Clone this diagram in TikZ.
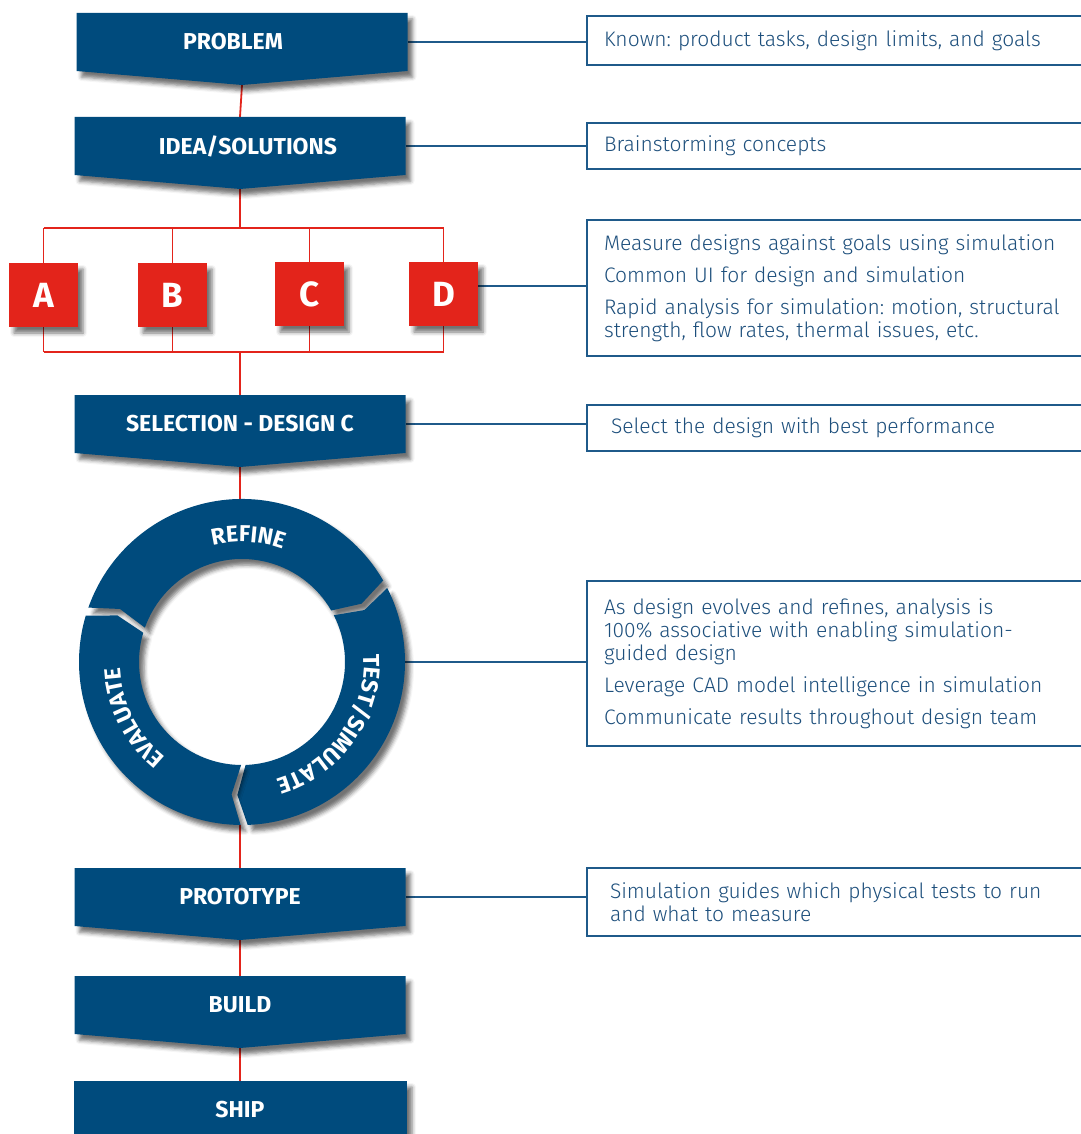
\documentclass[tikz,border=0pt]{standalone}
\usepackage{fontspec}
\setmainfont{Fira Sans}
\newfontfamily\notefont{Fira Sans Light}
\usetikzlibrary{shadows.blur,decorations.text}
\frenchspacing

\definecolor{stageblue}{HTML}{004B7D}
\definecolor{optred}{HTML}{E3241B}
\definecolor{pagebg}{HTML}{D9E1EC}
\definecolor{noteline}{HTML}{1F5A8A}
\definecolor{notetext}{HTML}{1D4F7C}

\pgfdeclarelayer{back}
\pgfdeclarelayer{lines}
\pgfsetlayers{back,lines,main}

% chevron box: name, x centre, top y, label
\newcommand{\stagebox}[4]{%
  \fill[stage] (#2-165.5,-#3) -- ++(331,0) -- ++(0,-58) -- ++(-165.5,-14) -- ++(-165.5,14) -- cycle;
  \node[lbl] (#1) at (#2,-#3-29) {#4};
  \coordinate (#1tip) at (#2,-#3-72);
}

\begin{document}
\begin{tikzpicture}[x=1pt,y=1pt,
  sh/.style={blur shadow={shadow xshift=5pt,shadow yshift=-6pt,shadow blur radius=4pt,shadow opacity=55}},
  stage/.style={fill=stageblue,sh},
  lbl/.style={text=white,font=\bfseries\fontsize{23}{23}\selectfont,minimum width=331pt,minimum height=58pt,inner sep=0pt},
  opt/.style={fill=optred,sh,minimum width=69pt,minimum height=64pt,inner sep=0pt,text=white,font=\bfseries\fontsize{35}{35}\selectfont},
  note/.style={draw=noteline,line width=2pt,fill=white,anchor=north west,text width=470pt,inner xsep=17pt,align=left,text=notetext,font=\notefont\fontsize{21}{23}\selectfont},
  rl/.style={draw=optred,line width=1.8pt},
  bl/.style={draw=noteline,line width=1.8pt},
  seg/.style={fill=stageblue,sh},
  ringtxt/.style={decorate,decoration={text along path,text align=center,text={|\color{white}\bfseries\fontsize{23}{23}\selectfont|#1}}}]

\useasboundingbox (0,0) rectangle (1080,-1134);
\begin{pgfonlayer}{back}
  \fill[pagebg] (0,0) rectangle (1080,-1134);
\end{pgfonlayer}
% first shadow kept off the page
\path[sh,fill=pagebg] (1300,0) rectangle (1310,-10);

\stagebox{prob}{242}{13}{PROBLEM\hspace*{18pt}}
\stagebox{idea}{240}{117}{\hspace*{16pt}IDEA/SOLUTIONS}
\stagebox{sel}{240}{395}{SELECTION - DESIGN C}
\stagebox{proto}{240}{868}{PROTOTYPE}
\stagebox{build}{240}{976}{BUILD}
\fill[stage] (74,-1081) rectangle (407,-1145);
\node[lbl] (ship) at (240,-1110) {SHIP};

\node[opt] (a) at (43.5,-295) {A};
\node[opt] (b) at (172.5,-295) {B};
\node[opt] (c) at (309.5,-294) {C};
\node[opt] (d) at (443.5,-294) {D};

% cycle ring
\node[circle,minimum size=326pt,inner sep=0pt] (ring) at (242,-662) {};
\begin{scope}[shift={(242,-662)}]
  \fill[seg] (160.5:163pt) arc[start angle=160.5,end angle=30,radius=163pt] -- (26:133pt) -- (30:103pt) arc[start angle=30,end angle=160.5,radius=103pt] -- (156.5:133pt) -- cycle;
  \fill[seg] (27:163pt) arc[start angle=27,end angle=-88,radius=163pt] -- (-92:133pt) -- (-88:103pt) arc[start angle=-88,end angle=27,radius=103pt] -- (23:133pt) -- cycle;
  \fill[seg] (-90.5:163pt) arc[start angle=-90.5,end angle=-196.5,radius=163pt] -- (-200.5:133pt) -- (-196.5:103pt) arc[start angle=-196.5,end angle=-90.5,radius=103pt] -- (-94.5:133pt) -- cycle;
  \path[ringtxt=REFINE] (137:120pt) arc[start angle=137,end angle=37,radius=120pt];
  \path[ringtxt=TEST/SIMULATE] (15:122pt) arc[start angle=15,end angle=-85,radius=122pt];
  \path[ringtxt=EVALUATE] (-103:122pt) arc[start angle=-103,end angle=-203,radius=122pt];
\end{scope}

\node[note,minimum height=49pt] (k1) at (586,-15) {Known: product tasks, design limits, and goals};
\node[note,minimum height=46pt] (k2) at (586,-122) {Brainstorming concepts};
\node[note,minimum height=136pt] (k3) at (586,-219) {Measure designs against goals using simulation\\[9pt]
  Common UI for design and simulation\\[9pt]
  Rapid analysis for simulation: motion, structural\\ strength, flow rates, thermal issues, etc.};
\node[note,minimum height=46pt,inner xsep=24pt] (k4) at (586,-404) {Select the design with best performance};
\node[note,minimum height=165pt] (k5) at (586,-580) {As design evolves and refines, analysis is\\ 100\% associative with enabling simulation-\\ guided design\\[9pt]
  Leverage CAD model intelligence in simulation\\[9pt]
  Communicate results throughout design team};
\node[note,minimum height=68pt,inner xsep=23pt] (k6) at (586,-867) {Simulation guides which physical tests to run\\ and what to measure};

\begin{pgfonlayer}{lines}
  \draw[rl] (probtip) -- (idea.north);
  \draw[rl] (ideatip) -- (240,-228) coordinate (bt);
  \draw[rl] (a.north |- bt) -- (d.north |- bt);
  \coordinate (bb) at (240,-352);
  \draw[rl] (a.south |- bb) -- (d.south |- bb);
  \foreach \o in {a,b,c,d} {
    \draw[rl] (\o.north) -- (\o.north |- bt);
    \draw[rl] (\o.south) -- (\o.south |- bb);
  }
  \draw[rl] (bb) -- (sel.north);
  \draw[rl] (seltip) -- (seltip |- ring.north);
  \draw[rl] (proto.north |- ring.south) -- (proto.north);
  \draw[rl] (prototip) -- (build.north);
  \draw[rl] (buildtip) -- (ship.north);

  \draw[bl] (prob.east) -- (prob.east -| k1.west);
  \draw[bl] (idea.east) -- (idea.east -| k2.west);
  \draw[bl] ([yshift=8pt]d.east) -- ([yshift=8pt]d.east -| k3.west);
  \draw[bl] (sel.east) -- (sel.east -| k4.west);
  \draw[bl] (ring.east) -- (ring.east -| k5.west);
  \draw[bl] (proto.east) -- (proto.east -| k6.west);
\end{pgfonlayer}
\end{tikzpicture}
\end{document}
